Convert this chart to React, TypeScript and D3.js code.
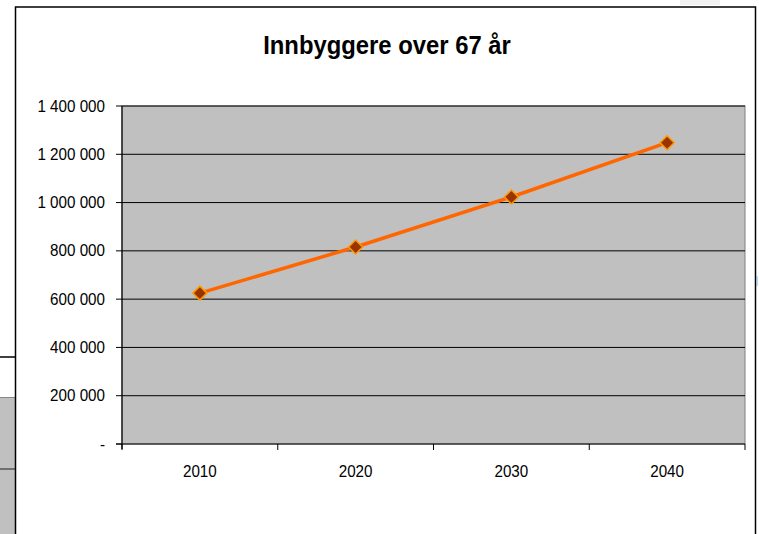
import React from "react";
import * as d3 from "d3";

const categories = ["2010", "2020", "2030", "2040"];
const values = [625000, 816000, 1023000, 1248000];
const yTicks = [0, 200000, 400000, 600000, 800000, 1000000, 1200000, 1400000];
const title = "Innbyggere over 67 år";

const W = 759;
const H = 534;
const plot = { left: 122, right: 745, top: 106, bottom: 444 };

function fmt(v: number): string {
  if (v === 0) return "-";
  return d3.format(",")(v).replace(/,/g, " ");
}

export default function App() {
  const x = d3.scaleBand<string>().domain(categories).range([plot.left, plot.right]).padding(0);
  const y = d3.scaleLinear().domain([0, 1400000]).range([plot.bottom, plot.top]);
  const cx = (c: string) => (x(c) as number) + x.bandwidth() / 2;
  const line = d3
    .line<number>()
    .x((_, i) => cx(categories[i]))
    .y((d) => y(d));
  const boundaries = [...categories.map((c) => x(c) as number), plot.right];
  const r = 7;
  return (
    <svg
      width={W}
      height={H}
      style={{ position: "absolute", left: 0, top: 0, display: "block", background: "#fff" }}
      fontFamily="'Liberation Sans', Arial, sans-serif"
    >
      {/* background artifacts */}
      <line x1={0} x2={15} y1={357} y2={357} stroke="#000" strokeWidth={1.5} />
      <rect x={0} y={397} width={15} height={137} fill="#c0c0c0" />
      <line x1={0} x2={15} y1={397.5} y2={397.5} stroke="#888" strokeWidth={1} />
      <line x1={0} x2={15} y1={469} y2={469} stroke="#555" strokeWidth={1.5} />
      <rect x={680} y={0} width={40} height={5} fill="#f2f2f2" />
      {/* chart frame */}
      <path d={`M15.5,${H} V7 H755.5 V${H}`} fill="#fff" stroke="#000" strokeWidth={1.5} />
      <line x1={757} x2={757} y1={276} y2={286} stroke="#7bb3e0" strokeWidth={1} />
      {/* title */}
      <text
        x={387}
        y={54}
        textAnchor="middle"
        fontSize={26.5}
        fontWeight="bold"
        fill="#000"
        transform="translate(387,0) scale(0.9,1) translate(-387,0)"
      >
        {title}
      </text>
      {/* plot area */}
      <rect
        x={plot.left}
        y={plot.top}
        width={plot.right - plot.left}
        height={plot.bottom - plot.top}
        fill="#c0c0c0"
        stroke="#808080"
        strokeWidth={1}
      />
      {yTicks.slice(1).map((t) => (
        <line key={t} x1={plot.left} x2={plot.right} y1={y(t)} y2={y(t)} stroke="#000" strokeWidth={1} />
      ))}
      {/* axes */}
      <line x1={plot.left} x2={plot.left} y1={plot.top} y2={plot.bottom + 5} stroke="#000" strokeWidth={1.2} />
      <line x1={plot.left - 6} x2={plot.right} y1={plot.bottom} y2={plot.bottom} stroke="#000" strokeWidth={1.2} />
      {yTicks.map((t) => (
        <g key={t}>
          <line x1={plot.left - 6} x2={plot.left} y1={y(t)} y2={y(t)} stroke="#000" strokeWidth={1} />
          <text x={105} y={y(t)} dy="0.35em" textAnchor="end" fontSize={16} fill="#000"
            transform={`translate(105,0) scale(0.95,1) translate(-105,0)`}>
            {fmt(t)}
          </text>
        </g>
      ))}
      {boundaries.map((b, i) => (
        <line key={i} x1={b} x2={b} y1={plot.bottom} y2={plot.bottom + 6} stroke="#000" strokeWidth={1} />
      ))}
      {categories.map((c) => (
        <text key={c} x={cx(c)} y={477} textAnchor="middle" fontSize={16} fill="#000"
          transform={`translate(${cx(c)},0) scale(0.95,1) translate(${-cx(c)},0)`}>
          {c}
        </text>
      ))}
      {/* series */}
      <path d={line(values) || ""} fill="none" stroke="#ff6600" strokeWidth={3.5} />
      {values.map((v, i) => {
        const px = cx(categories[i]);
        const py = y(v);
        return (
          <path
            key={i}
            d={`M${px},${py - r} L${px + r},${py} L${px},${py + r} L${px - r},${py} Z`}
            fill="#993300"
            stroke="#ff9900"
            strokeWidth={1.5}
          />
        );
      })}
    </svg>
  );
}
